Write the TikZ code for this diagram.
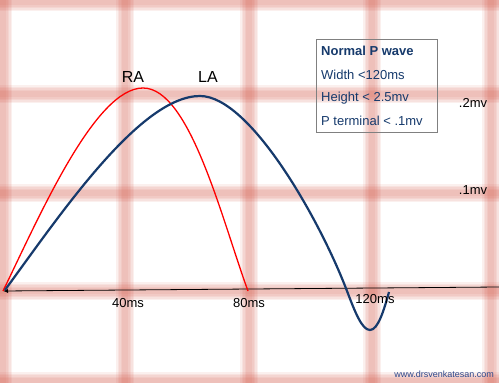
\documentclass[tikz,border=0pt]{standalone}
\usepackage{fontspec}
\setmainfont{Liberation Sans}
\usepackage{tikz}
\usetikzlibrary{arrows.meta}
\definecolor{gridred}{RGB}{214,92,76}
\definecolor{pnavy}{RGB}{22,58,108}
\definecolor{webblue}{RGB}{44,72,140}
\tikzset{
  gridline/.style={gridred, line cap=butt},
  lbl/.style={font=\fontsize{13}{15}\selectfont, inner sep=0pt},
}

\begin{document}
\begin{tikzpicture}[x=1pt, y=-1pt]
\useasboundingbox (0,0) rectangle (499,383);
\fill[white] (0,0) rectangle (499,383);
% blurred grid
\foreach \w in {18,15,12,9,6} {
  \foreach \gx in {3,125,249,372,491}
    \draw[gridline, line width=\w pt, opacity=0.09] (\gx,0) -- (\gx,383);
  \foreach \gy in {2,94,193,291,381}
    \draw[gridline, line width=\w pt, opacity=0.09] (0,\gy) -- (499,\gy);
}
% time axis
\draw[{Latex[length=5pt,width=4pt]}-, line width=0.8pt] (3,291) -- (499,287);
% RA and LA waves
\draw[red, line width=1.3pt] (3,291) .. controls (40,215) and (95,88) .. (143,88)
  .. controls (190,88) and (222,220) .. (248,291);
\draw[pnavy, line width=2.2pt] (5,290) .. controls (60,215) and (140,96) .. (200,96)
  .. controls (250,96) and (320,220) .. (347,291)
  .. controls (355,312) and (362,330) .. (370,330)
  .. controls (378,330) and (384,310) .. (389,292);
\node[font=\fontsize{16}{18}\selectfont] (ra) at (133,77) {RA};
\node[font=\fontsize{16}{18}\selectfont] (la) at (208,77) {LA};
\node[lbl] (t40) at (128,303) {40ms};
\node[lbl] (t80) at (249,303) {80ms};
\node[lbl] (t120) at (375,299) {120ms};
\node[lbl] (v2) at (473,103) {.2mv};
\node[lbl] (v1) at (473,190) {.1mv};
% legend box
\draw[gray, line width=0.7pt] (316,39) rectangle (437,132);
\node[lbl, anchor=west, pnavy, font=\fontsize{13}{15}\selectfont\bfseries] (title) at (321,51) {Normal P wave};
\node[lbl, anchor=west, pnavy] (width) at (321,74.5) {Width <120ms};
\node[lbl, anchor=west, pnavy] (height) at (321,98) {Height < 2.5mv};
\node[lbl, anchor=west, pnavy] (term) at (321,121) {P terminal < .1mv};
\node[webblue, font=\fontsize{9}{11}\selectfont, inner sep=0pt, anchor=east] (web) at (494,374) {www.drsvenkatesan.com};
\end{tikzpicture}
\end{document}
